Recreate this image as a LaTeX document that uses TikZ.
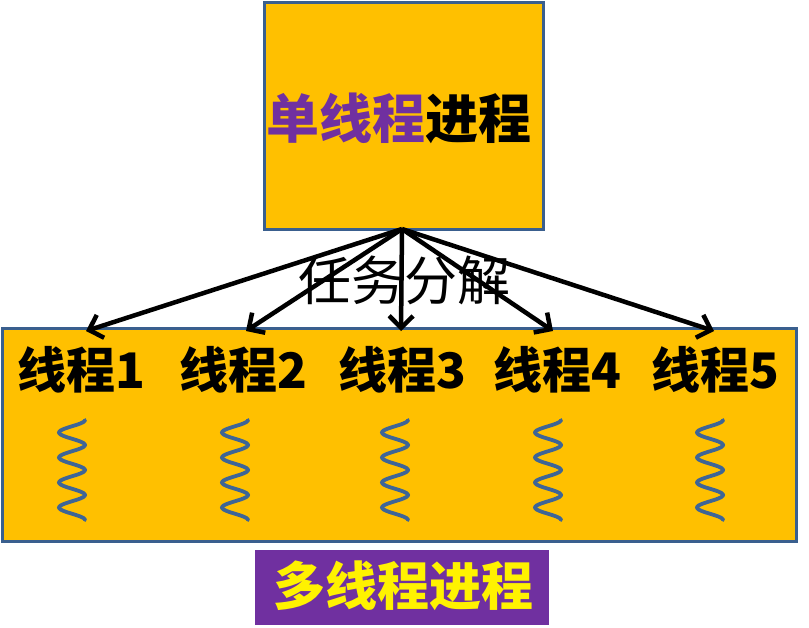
\documentclass[tikz,border=0pt]{standalone}
\usepackage{fontspec}
\newfontfamily\cjk{Noto Sans CJK SC}
\usetikzlibrary{arrows.meta}
\definecolor{boxfill}{HTML}{FFC000}
\definecolor{boxline}{HTML}{3A5F8E}
\definecolor{purp}{HTML}{7030A0}
\definecolor{wave}{HTML}{3E6596}
\tikzset{
  box/.style={draw=boxline, fill=boxfill, line width=3pt, inner sep=0pt},
  arr/.style={draw=black, line width=4.5pt, -{Straight Barb[length=12pt,width=24pt,line width=4.5pt]}},
  thlabel/.style={font=\cjk\bfseries\fontsize{49}{49}\selectfont, inner sep=0pt},
  wavy/.style={draw=wave, line width=3.8pt, line cap=round}
}
\begin{document}
\begin{tikzpicture}[x=1pt,y=-1pt]
\useasboundingbox (0,0) rectangle (809,627);
\node[box, minimum width=279pt, minimum height=227pt] (top) at (403.5,115.5) {};
\node[inner sep=0pt, font=\cjk\bfseries\fontsize{53}{53}\selectfont] (title) at (399,118) {\textcolor{purp}{单线程}进程};
\node[box, minimum width=794pt, minimum height=213pt] (bottom) at (399,434.5) {};
\node[fill=purp, minimum width=294pt, minimum height=75pt, inner sep=0pt] (multi) at (402,587.5) {};
\node[inner sep=0pt, text=yellow, font=\cjk\bfseries\fontsize{52}{52}\selectfont] (multitext) at (403,586) {多线程进程};
\coordinate (src) at (402,229);
\coordinate (t1) at (86,331);
\coordinate (t2) at (246,331);
\coordinate (t3) at (401,331);
\coordinate (t4) at (553,331);
\coordinate (t5) at (714,331);
\foreach \i in {1,...,5} \draw[arr] (src) -- (t\i);
\node[inner sep=0pt, font=\cjk\fontsize{53}{53}\selectfont] (task) at (404,280) {任务分解};
\node[thlabel] (th1) at (81,370) {线程1};
\node[thlabel] (th2) at (243,370) {线程2};
\node[thlabel] (th3) at (402,370) {线程3};
\node[thlabel] (th4) at (557,370) {线程4};
\node[thlabel] (th5) at (715,370) {线程5};
\foreach \cx in {72,235,395,548,710}
  \draw[wavy] plot[domain=0:100, samples=121, smooth, variable=\t] ({\cx+13*cos(14.4*\t)}, {420+\t});
\end{tikzpicture}
\end{document}
